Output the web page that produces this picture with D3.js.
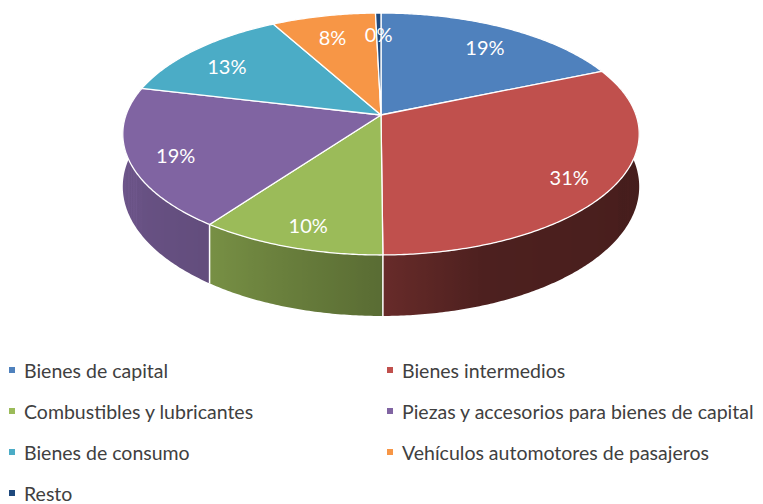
<!DOCTYPE html>
<html>
<head>
<meta charset="utf-8">
<script src="https://cdn.jsdelivr.net/npm/d3@7"></script>
<style>
  body { margin: 0; background: #fff; }
  svg { display: block; }
  .label { font-family: Lato, "Open Sans", sans-serif; font-size: 20px; fill: #fff; }
  .legend text { font-family: Lato, "Open Sans", sans-serif; font-size: 19.5px; fill: #404040; }
</style>
</head>
<body>
<div class="chart"></div>
<script>
const categories = ["Bienes de capital", "Bienes intermedios", "Combustibles y lubricantes",
  "Piezas y accesorios para bienes de capital", "Bienes de consumo",
  "Vehículos automotores de pasajeros", "Resto"];
const values = [18.6, 31.4, 10.1, 18.8, 13.3, 7.6, 0.4];
const colors = ["#4f81bd", "#c0504d", "#9bbb59", "#8064a2", "#4bacc6", "#f79646", "#1f497d"];

const width = 763, height = 504;
// projected disc: centre, radii, perspective and wall height
const cx = 381, cy = 115, Rx = 255, Ry = 118, persp = 0.157, depth = 51.4;

const svg = d3.select(".chart").append("svg")
  .attr("width", width)
  .attr("height", height);
const defs = svg.append("defs");

const total = d3.sum(values);
const arcs = d3.pie().sort(null).value(d => d)(values);

function proj(a, r, y) {
  let X = r * Math.sin(a), Z = r * Math.cos(a);
  let w = 1 + persp * Z;
  return [cx + Rx * X / w, cy + (-Ry * Z + depth * y) / w];
}

// wall brightness against angle (degrees clockwise from top)
const shade = d3.scaleLinear()
  .domain([90, 160, 179.9, 180.1, 216, 270])
  .range([0.36, 0.40, 0.54, 0.58, 0.77, 0.86])
  .clamp(true);

const line = d3.line();
const lo = Math.PI / 2 - 0.25, hi = 3 * Math.PI / 2 + 0.25;

// walls on the front half
let walls = arcs.map((d, i) => {
  let a0 = Math.max(d.startAngle, lo), a1 = Math.min(d.endAngle, hi);
  return {i: i, a0: a0, a1: a1};
}).filter(w => w.a1 > w.a0);

walls.forEach(w => {
  let n = Math.max(2, Math.ceil((w.a1 - w.a0) / 0.01));
  let angs = d3.range(n + 1).map(k => w.a0 + (w.a1 - w.a0) * k / n);
  w.top = angs.map(a => proj(a, 1, 0));
  w.bot = angs.map(a => proj(a, 1, 1)).reverse();
  let xs = w.top.map(p => p[0]);
  let x0 = d3.min(xs), x1 = d3.max(xs);
  let g = defs.append("linearGradient")
    .attr("id", "wall" + w.i)
    .attr("gradientUnits", "userSpaceOnUse")
    .attr("x1", x0).attr("x2", x1).attr("y1", 0).attr("y2", 0);
  angs.map((a, k) => ({off: (xs[k] - x0) / (x1 - x0 || 1), a: a}))
    .sort((p, q) => p.off - q.off)
    .forEach(s => {
      g.append("stop")
        .attr("offset", s.off)
        .attr("stop-color", d3.interpolateRgb("#000", colors[w.i])(shade(s.a * 180 / Math.PI)));
    });
});

svg.append("g").selectAll("path")
  .data(walls)
  .enter().append("path")
    .attr("d", w => line(w.top.concat(w.bot)) + "Z")
    .attr("fill", w => "url(#wall" + w.i + ")");

// white seams on the wall at slice boundaries
svg.append("g").selectAll("line")
  .data(arcs.filter(d => Math.cos(d.startAngle) < 0))
  .enter().append("line")
    .attr("x1", d => proj(d.startAngle, 1, 0)[0])
    .attr("y1", d => proj(d.startAngle, 1, 0)[1])
    .attr("x2", d => proj(d.startAngle, 1, 1)[0])
    .attr("y2", d => proj(d.startAngle, 1, 1)[1])
    .attr("stroke", "#fff")
    .attr("stroke-width", 1.5);

// top face
svg.append("g").selectAll("path")
  .data(arcs)
  .enter().append("path")
    .attr("d", d => {
      let pts = [proj(0, 0, 0)];
      let n = Math.max(2, Math.ceil((d.endAngle - d.startAngle) / 0.01));
      for (let k = 0; k <= n; k++) {
        pts.push(proj(d.startAngle + (d.endAngle - d.startAngle) * k / n, 1, 0));
      }
      return line(pts) + "Z";
    })
    .attr("fill", (d, i) => colors[i])
    .attr("stroke", "#fff")
    .attr("stroke-width", 1.3)
    .attr("stroke-linejoin", "round");

// data labels
svg.append("g").selectAll("text")
  .data(arcs)
  .enter().append("text")
    .attr("class", "label")
    .attr("x", d => proj((d.startAngle + d.endAngle) / 2, 0.82, 0)[0])
    .attr("y", d => proj((d.startAngle + d.endAngle) / 2, 0.82, 0)[1] + 5)
    .attr("text-anchor", "middle")
    .attr("dominant-baseline", "central")
    .text(d => Math.round(d.value / total * 100) + "%");

// legend
const legend = svg.append("g").attr("class", "legend")
  .selectAll("g")
  .data(categories)
  .enter().append("g")
    .attr("transform", (d, i) => "translate(" + (i % 2 ? 390 : 12) + "," + (370 + Math.floor(i / 2) * 41) + ")");

legend.append("rect")
  .attr("x", -3).attr("y", -3)
  .attr("width", 6).attr("height", 6)
  .attr("fill", (d, i) => colors[i]);

legend.append("text")
  .attr("x", 12)
  .attr("dominant-baseline", "central")
  .text(d => d);
</script>
</body>
</html>
